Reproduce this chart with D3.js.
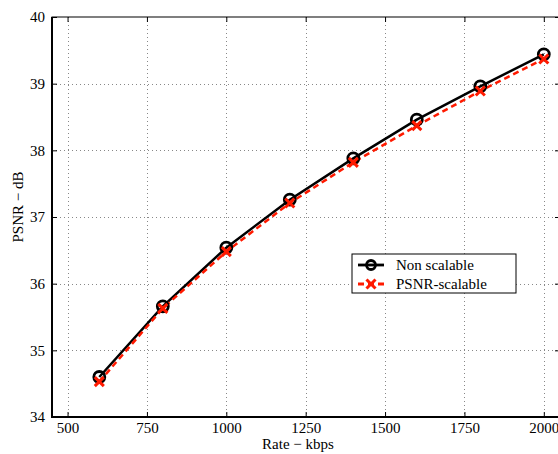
<!DOCTYPE html>
<html>
<head>
<meta charset="utf-8">
<script src="https://cdn.jsdelivr.net/npm/d3@7"></script>
<style>
  body { margin: 0; background: #fff; }
</style>
</head>
<body>
<svg id="chart" width="558" height="454"></svg>
<script>
// data
const rates = [600, 800, 1000, 1200, 1400, 1600, 1800, 2000];
const nonScalable = [34.60, 35.66, 36.54, 37.26, 37.88, 38.46, 38.96, 39.44];
const psnrScalable = [34.53, 35.63, 36.48, 37.21, 37.82, 38.37, 38.89, 39.37];
const xTicks = [500, 750, 1000, 1250, 1500, 1750, 2000];
const yTicks = [34, 35, 36, 37, 38, 39, 40];

const serif = "'Liberation Serif', 'Times New Roman', 'DejaVu Serif', serif";

const svg = d3.select("#chart");
const plotLeft = 52, plotTop = 17, plotRight = 560, plotBottom = 417;

const x = d3.scaleLinear().domain([451, 2051]).range([plotLeft, plotRight]);
const y = d3.scaleLinear().domain([34, 40]).range([plotBottom, plotTop]);

// grid
const grid = svg.append("g")
  .attr("stroke", "#888")
  .attr("stroke-width", 1)
  .attr("stroke-dasharray", "1,3");
grid.selectAll(".gx").data(xTicks).join("line")
  .attr("x1", d => Math.round(x(d)) + 0.5).attr("x2", d => Math.round(x(d)) + 0.5)
  .attr("y1", plotTop).attr("y2", plotBottom);
grid.selectAll(".gy").data(yTicks.slice(1, -1)).join("line")
  .attr("y1", d => Math.round(y(d)) + 0.5).attr("y2", d => Math.round(y(d)) + 0.5)
  .attr("x1", plotLeft).attr("x2", plotRight);

// frame
svg.append("rect")
  .attr("x", plotLeft).attr("y", plotTop)
  .attr("width", plotRight - plotLeft).attr("height", plotBottom - plotTop)
  .attr("fill", "none").attr("stroke", "#000").attr("stroke-width", 1);
svg.append("line").attr("x1", plotLeft).attr("x2", plotLeft).attr("y1", plotTop).attr("y2", plotBottom + 1)
  .attr("stroke", "#000").attr("stroke-width", 2);
svg.append("line").attr("x1", plotLeft - 1).attr("x2", plotRight).attr("y1", plotBottom).attr("y2", plotBottom)
  .attr("stroke", "#000").attr("stroke-width", 2);

// axes, ticks pointing inward
const xAxis = svg.append("g").attr("transform", `translate(0,${plotBottom})`)
  .call(d3.axisBottom(x).tickValues(xTicks).tickSize(-5).tickPadding(5).tickFormat(d3.format("d")));
const xAxisTop = svg.append("g").attr("transform", `translate(0,${plotTop})`)
  .call(d3.axisTop(x).tickValues(xTicks).tickSize(-5).tickFormat(""));
const yAxis = svg.append("g").attr("transform", `translate(${plotLeft},0)`)
  .call(d3.axisLeft(y).tickValues(yTicks).tickSize(-5).tickPadding(7).tickFormat(d3.format("d")));
const yAxisRight = svg.append("g").attr("transform", `translate(${plotRight},0)`)
  .call(d3.axisRight(y).tickValues(yTicks).tickSize(-5).tickFormat(""));

[xAxis, xAxisTop, yAxis, yAxisRight].forEach(g => {
  g.attr("font-family", serif).attr("font-size", 15);
  g.select(".domain").remove();
  g.selectAll("line").attr("stroke", "#000");
  g.selectAll("text").style("font-family", serif).attr("fill", "#000");
});

// axis labels
svg.append("text")
  .attr("x", 298).attr("y", 449)
  .attr("text-anchor", "middle")
  .style("font-family", serif).style("font-size", "15px")
  .text("Rate \u2212 kbps");
svg.append("text")
  .attr("transform", `translate(23,${207}) rotate(-90)`)
  .attr("text-anchor", "middle")
  .style("font-family", serif).style("font-size", "15px")
  .text("PSNR \u2212 dB");

// series
const line = d3.line().x((d, i) => x(rates[i])).y(d => y(d));

svg.append("path").datum(nonScalable)
  .attr("d", line).attr("fill", "none")
  .attr("stroke", "#000").attr("stroke-width", 2.5);

svg.append("path").datum(psnrScalable)
  .attr("d", line).attr("fill", "none")
  .attr("stroke", "#ff1a00").attr("stroke-width", 2.5)
  .attr("stroke-dasharray", "6,4");

svg.selectAll(".circ").data(nonScalable).join("circle")
  .attr("cx", (d, i) => x(rates[i])).attr("cy", d => y(d))
  .attr("r", 5.5).attr("fill", "none")
  .attr("stroke", "#000").attr("stroke-width", 2.8);

const cross = d3.symbol().type(d3.symbolX).size(55);
svg.selectAll(".cross").data(psnrScalable).join("path")
  .attr("transform", (d, i) => `translate(${x(rates[i])},${y(d)})`)
  .attr("d", cross)
  .attr("fill", "none").attr("stroke", "#ff1a00").attr("stroke-width", 3);

// legend
const lg = svg.append("g").attr("transform", "translate(352,254)");
lg.append("rect").attr("width", 164).attr("height", 39)
  .attr("fill", "#fff").attr("stroke", "#000").attr("stroke-width", 1);
const items = [
  { label: "Non scalable", color: "#000", dash: null, mark: "circle" },
  { label: "PSNR-scalable", color: "#ff1a00", dash: "6,4", mark: "cross" }
];
items.forEach((it, i) => {
  const cy = 11 + i * 19;
  lg.append("line").attr("x1", 6).attr("x2", 32).attr("y1", cy).attr("y2", cy)
    .attr("stroke", it.color).attr("stroke-width", 2.8)
    .attr("stroke-dasharray", it.dash);
  if (it.mark === "circle") {
    lg.append("circle").attr("cx", 19).attr("cy", cy).attr("r", 4.5)
      .attr("fill", "none").attr("stroke", it.color).attr("stroke-width", 2.8);
  } else {
    lg.append("path").attr("transform", `translate(19,${cy})`)
      .attr("d", cross).attr("fill", "none")
      .attr("stroke", it.color).attr("stroke-width", 3);
  }
  lg.append("text").attr("x", 44).attr("y", cy + 5)
    .style("font-family", serif).style("font-size", "15px")
    .text(it.label);
});
</script>
</body>
</html>
